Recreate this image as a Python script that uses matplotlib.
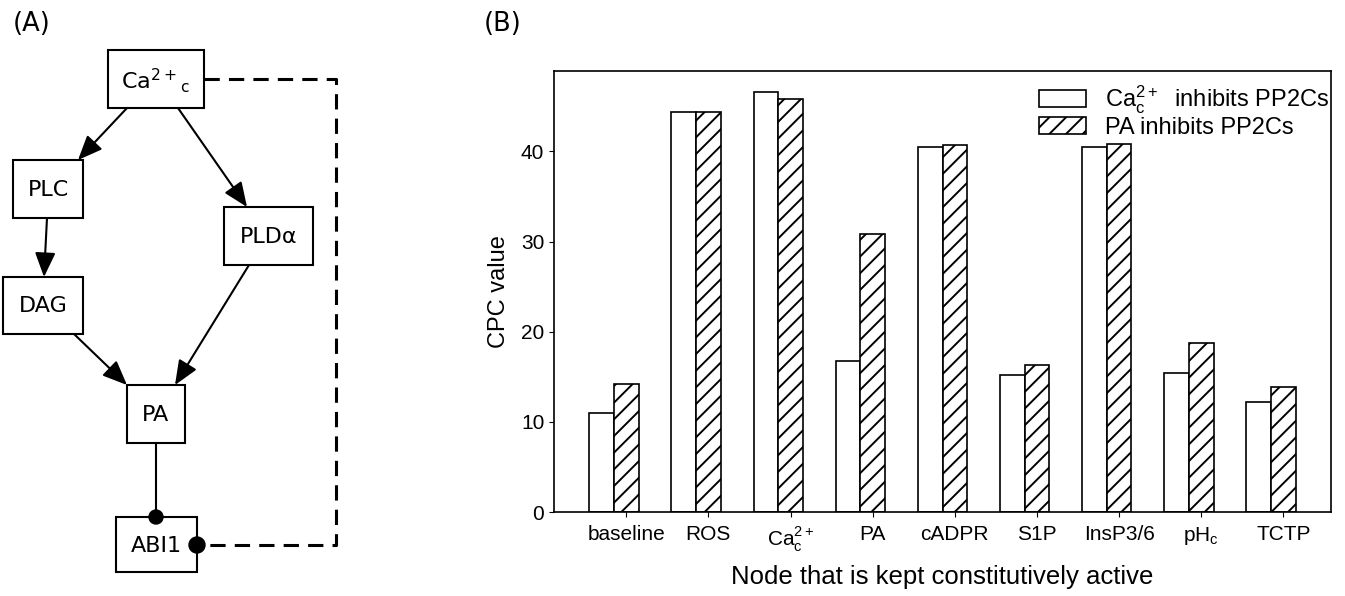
import numpy as np
import matplotlib
matplotlib.use("Agg")
import matplotlib.pyplot as plt
from matplotlib.patches import Rectangle, FancyArrowPatch, Circle, ArrowStyle

plt.rcParams['font.family'] = ['Liberation Sans', 'DejaVu Sans']
plt.rcParams['hatch.linewidth'] = 1.4

# ---------------- data ----------------
categories = ['baseline', 'ROS', r'Ca$_\mathregular{c}^\mathregular{2+}$', 'PA', 'cADPR',
              'S1P', 'InsP3/6', r'pH$_\mathregular{c}$', 'TCTP']
ca_inhibits = [11.0, 44.4, 46.6, 16.7, 40.5, 15.15, 40.5, 15.4, 12.15]
pa_inhibits = [14.2, 44.4, 45.8, 30.9, 40.7, 16.3, 40.8, 18.7, 13.85]
series_labels = [r'Ca$_\mathregular{c}^\mathregular{2+}$  inhibits PP2Cs', 'PA inhibits PP2Cs']
yticks = [0, 10, 20, 30, 40]

W, H = 1345, 596
fig = plt.figure(figsize=(W / 100, H / 100), dpi=100)

# ---------------- panel A: network diagram ----------------
axd = fig.add_axes([0, 0, 1, 1])
axd.set_xlim(0, W)
axd.set_ylim(H, 0)
axd.axis('off')

dfont = dict(family='DejaVu Sans', fontsize=16, ha='center', va='center')
boxes = {
    'Ca':   (108, 50, 204, 108),
    'PLC':  (13, 160, 83, 218),
    'PLD':  (224, 207, 313, 265),
    'DAG':  (3, 277, 83, 334),
    'PA':   (127, 385, 185, 443),
    'ABI1': (116, 517, 197, 572),
}
labels = {'PLC': 'PLC', 'PLD': 'PLDα', 'DAG': 'DAG', 'PA': 'PA', 'ABI1': 'ABI1'}
for k, (x0, y0, x1, y1) in boxes.items():
    axd.add_patch(Rectangle((x0, y0), x1 - x0, y1 - y0, fill=False, lw=1.5, ec='black'))
    if k in labels:
        axd.text((x0 + x1) / 2, (y0 + y1) / 2 + 1, labels[k], **dfont)
axd.text(155, 81, r'Ca$^{2+}$$_{\mathregular{c}}$', **dfont)

astyle = ArrowStyle('-|>', head_length=1.0, head_width=0.42)
arrows = [((127, 108), (78, 160)), ((178, 108), (247, 207)), ((47, 218), (44, 277)),
          ((249, 265), (175, 385)), ((74, 334), (127, 385))]
for (p0, p1) in arrows:
    axd.add_patch(FancyArrowPatch(p0, p1, arrowstyle=astyle, mutation_scale=15, lw=1.5,
                                  color='black', shrinkA=0, shrinkB=0))
axd.plot([156, 156], [443, 517], color='black', lw=1.5)
axd.add_patch(Circle((156, 517), 7, color='black'))
axd.plot([204, 336, 336, 200], [79, 79, 545, 545], color='black', lw=2.2,
         linestyle=(0, (5, 3)))
axd.add_patch(Circle((197, 545), 8, color='black', zorder=5))

fig.text(13 / W, 1 - 24 / H, '(A)', family='DejaVu Sans', fontsize=18.5, va='center', ha='left')
fig.text(484 / W, 1 - 24 / H, '(B)', family='DejaVu Sans', fontsize=18.5, va='center', ha='left')

# ---------------- panel B: bar chart ----------------
ax = fig.add_axes([554 / W, 1 - 512 / H, (1331 - 554) / W, (512 - 71) / H])
x = np.arange(len(categories))
w = 0.3
ax.bar(x - w, ca_inhibits, w, facecolor='white', edgecolor='black', lw=1.2,
       label=series_labels[0])
ax.bar(x, pa_inhibits, w, facecolor='white', edgecolor='black', lw=1.2, hatch='//',
       label=series_labels[1])
ax.set_xticks(x)
ax.set_xticklabels(categories, fontsize=15)
ax.set_yticks(yticks)
ax.tick_params(axis='y', labelsize=15)
ax.tick_params(axis='x', pad=6)
for s in ax.spines.values():
    s.set_linewidth(1.2)
ax.set_ylabel('CPC value', fontsize=17, labelpad=8)
ax.set_xlabel('Node that is kept constitutively active', fontsize=18.5, labelpad=8)
ax.legend(loc='upper right', frameon=False, fontsize=17, handlelength=2.0,
          handleheight=0.7, bbox_to_anchor=(1.013, 1.0), borderaxespad=0.1,
          labelspacing=0.05, handletextpad=0.8)

fig.savefig('out.png', dpi=100)
